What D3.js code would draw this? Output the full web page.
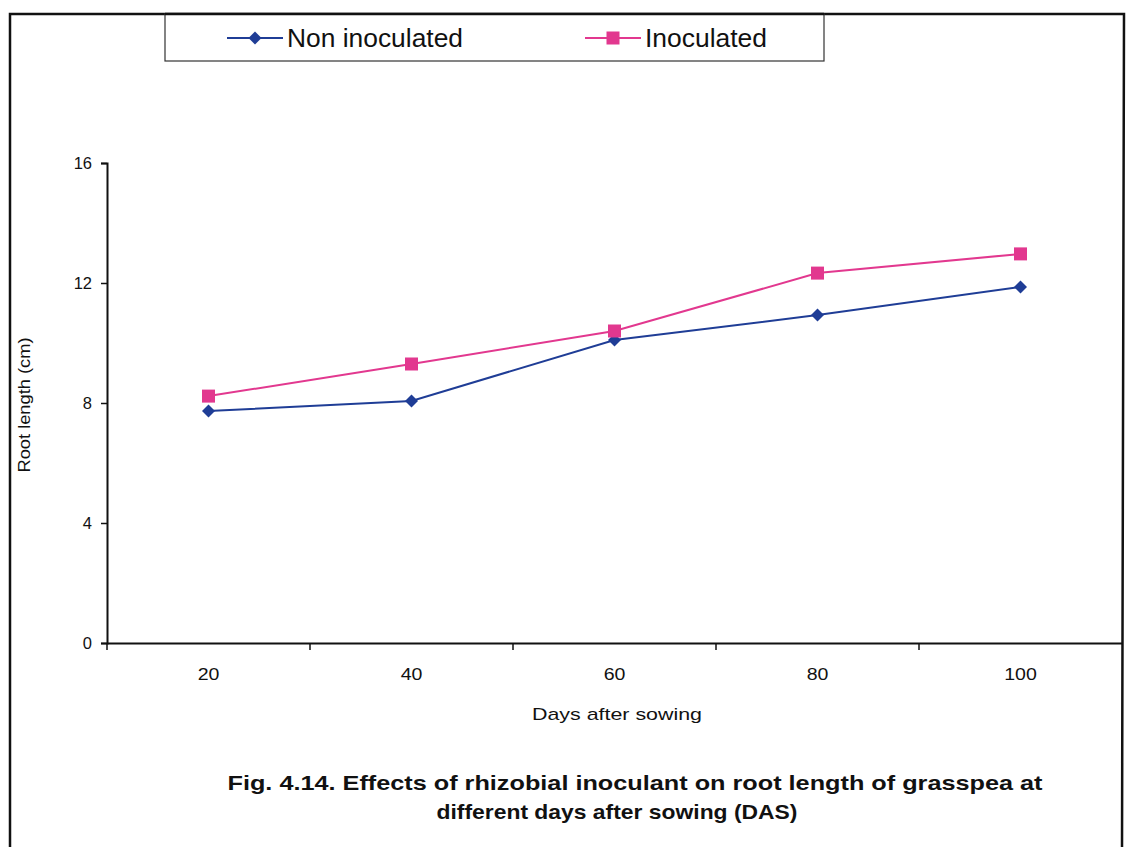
<!DOCTYPE html>
<html>
<head>
<meta charset="utf-8">
<script src="https://cdn.jsdelivr.net/npm/d3@7"></script>
<style>
  html, body { margin: 0; padding: 0; background: #fff; }
  svg { display: block; }
  text { font-family: "Liberation Sans", Arial, sans-serif; fill: #111; }
</style>
</head>
<body>
<svg id="chart" width="1128" height="847"></svg>
<script>
// Root length (cm) of grasspea at each sampling day
const days = ["20", "40", "60", "80", "100"];
const nonInoculated = [7.73, 8.07, 10.1, 10.93, 11.87];
const inoculated = [8.23, 9.3, 10.4, 12.33, 12.97];
const yTicks = [0, 4, 8, 12, 16];
const seriesNames = ["Non inoculated", "Inoculated"];
const seriesColors = ["#1f3d96", "#e2388f"];

const series = [
  { name: seriesNames[0], values: nonInoculated, color: seriesColors[0], shape: "diamond" },
  { name: seriesNames[1], values: inoculated, color: seriesColors[1], shape: "square" }
];

const svg = d3.select("#chart");
const plot = { left: 107, right: 1122, top: 163, bottom: 643 };

const x = d3.scaleBand().domain(days).range([plot.left, plot.right]);
const y = d3.scaleLinear().domain([0, 16]).range([plot.bottom, plot.top]);

// Outer frame around the figure
svg.append("path")
  .attr("d", `M10,849 L10,14 L1124,14 L1122,849`)
  .attr("fill", "none").attr("stroke", "#111").attr("stroke-width", 2.5);

// Y axis
const yAxis = svg.append("g")
  .attr("transform", `translate(${plot.left},0)`)
  .call(d3.axisLeft(y).tickValues(yTicks).tickSize(6).tickPadding(9));
yAxis.select(".domain").attr("stroke", "#111").attr("stroke-width", 2);
yAxis.selectAll(".tick line").attr("stroke", "#111").attr("stroke-width", 1.5);
yAxis.selectAll(".tick text").style("font-size", "16.5px").attr("fill", "#111");

// X axis: category labels centred in bands, tick marks on band edges
const xAxis = svg.append("g")
  .attr("transform", `translate(0,${plot.bottom})`)
  .call(d3.axisBottom(x).tickSize(0).tickPadding(25));
xAxis.select(".domain").attr("stroke", "#111").attr("stroke-width", 2);
xAxis.selectAll(".tick text").style("font-size", "17px").attr("fill", "#111")
  .attr("transform", "scale(1.15,1)");
const edges = days.map(d => x(d));
svg.append("g").selectAll("line").data(edges).join("line")
  .attr("x1", d => d).attr("x2", d => d)
  .attr("y1", plot.bottom).attr("y2", plot.bottom + 7)
  .attr("stroke", "#111").attr("stroke-width", 1.5);

// Axis titles
svg.append("text")
  .attr("transform", `translate(30,${(plot.top + plot.bottom) / 2 + 2}) rotate(-90)`)
  .attr("text-anchor", "middle").style("font-size", "16px")
  .attr("textLength", 135).attr("lengthAdjust", "spacingAndGlyphs")
  .text("Root length (cm)");
svg.append("text")
  .attr("x", 617).attr("y", 720).attr("text-anchor", "middle")
  .style("font-size", "17px")
  .attr("textLength", 170).attr("lengthAdjust", "spacingAndGlyphs")
  .text("Days after sowing");

// Series lines and markers
const cx = d => x(d) + x.bandwidth() / 2;
const line = d3.line().x((v, i) => cx(days[i])).y(v => y(v));
const diamond = s => `M0,${-s} L${s},0 L0,${s} L${-s},0 Z`;

function drawMarker(g, shape, color) {
  if (shape === "diamond") {
    g.append("path").attr("d", diamond(6.5)).attr("fill", color);
  } else {
    g.append("rect").attr("x", -6.5).attr("y", -6.5)
      .attr("width", 13).attr("height", 13).attr("fill", color);
  }
}

series.forEach(s => {
  svg.append("path").datum(s.values)
    .attr("d", line).attr("fill", "none")
    .attr("stroke", s.color).attr("stroke-width", 2);
  s.values.forEach((v, i) => {
    const g = svg.append("g").attr("transform", `translate(${cx(days[i])},${y(v)})`);
    drawMarker(g, s.shape, s.color);
  });
});

// Legend box
svg.append("rect")
  .attr("x", 165).attr("y", 14).attr("width", 659).attr("height", 47)
  .attr("fill", "#fff").attr("stroke", "#333").attr("stroke-width", 1.2);
svg.append("line").attr("x1", 165).attr("x2", 824).attr("y1", 14).attr("y2", 14)
  .attr("stroke", "#111").attr("stroke-width", 2.5);
const legendX = [227, 585];
const legendTextLen = [176, 122];
series.forEach((s, i) => {
  const g = svg.append("g").attr("transform", `translate(${legendX[i]},38)`);
  g.append("line").attr("x1", 0).attr("x2", 56).attr("y1", 0).attr("y2", 0)
    .attr("stroke", s.color).attr("stroke-width", 2);
  const m = g.append("g").attr("transform", "translate(28,0)");
  drawMarker(m, s.shape, s.color);
  g.append("text").attr("x", 60).attr("y", 9)
    .style("font-size", "25px")
    .attr("textLength", legendTextLen[i]).attr("lengthAdjust", "spacingAndGlyphs")
    .text(s.name);
});

// Figure caption
const caption = svg.append("g").style("font-weight", "bold").style("font-size", "21px");
caption.append("text").attr("x", 635).attr("y", 790).attr("text-anchor", "middle")
  .attr("textLength", 815).attr("lengthAdjust", "spacingAndGlyphs")
  .text("Fig. 4.14. Effects of rhizobial inoculant on root length of grasspea at");
caption.append("text").attr("x", 617).attr("y", 819).attr("text-anchor", "middle")
  .attr("textLength", 361).attr("lengthAdjust", "spacingAndGlyphs")
  .text("different days after sowing (DAS)");
</script>
</body>
</html>
